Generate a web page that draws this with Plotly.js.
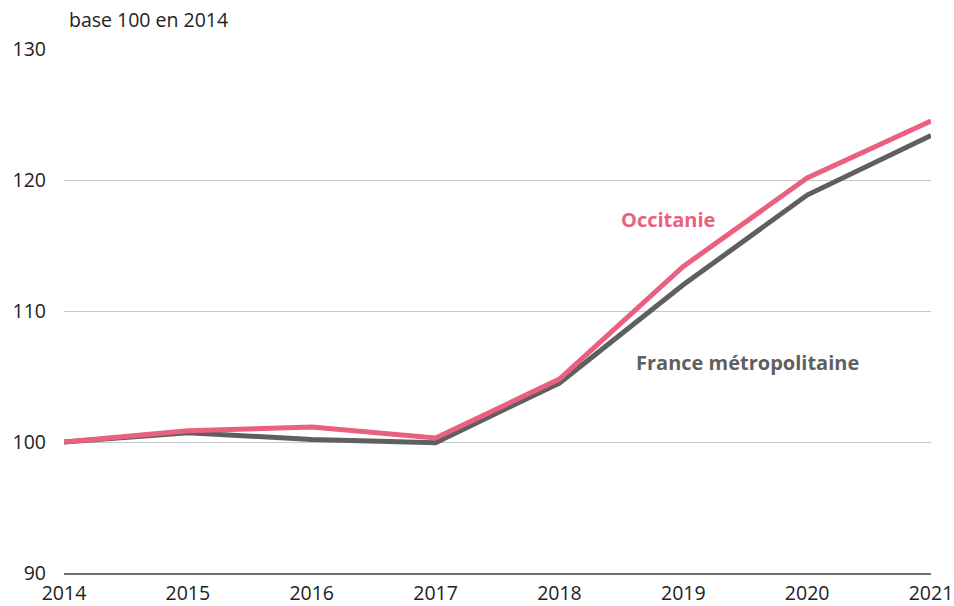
<!DOCTYPE html>
<html>
<head>
<meta charset="utf-8">
<script src="https://cdn.plot.ly/plotly-3.0.1.min.js"></script>
<style>
  html, body { margin: 0; padding: 0; background: #fff; }
  #chart { width: 954px; height: 606px; }
</style>
</head>
<body>
<div id="chart"></div>
<script>
var years = [2014, 2015, 2016, 2017, 2018, 2019, 2020, 2021]
var occitanie = [100, 100.85, 101.15, 100.3, 104.8, 113.4, 120.15, 124.5]
var france = [100, 100.7, 100.2, 99.95, 104.5, 112.0, 118.85, 123.4]

var font = 'Open Sans, Noto Sans, sans-serif'

var data = [
    {
        x: years,
        y: france,
        mode: 'lines',
        type: 'scatter',
        name: 'France métropolitaine',
        line: { color: '#5f5f5f', width: 5 }
    },
    {
        x: years,
        y: occitanie,
        mode: 'lines',
        type: 'scatter',
        name: 'Occitanie',
        line: { color: '#e9617f', width: 5 }
    }
]

Plotly.newPlot('chart', data, {
    width: 954,
    height: 606,
    margin: { l: 64, r: 23, t: 49, b: 33 },
    showlegend: false,
    paper_bgcolor: '#fff',
    plot_bgcolor: '#fff',
    font: { family: font, size: 19.5, color: '#222' },
    xaxis: {
        type: 'linear',
        range: [2014, 2021],
        tickvals: years,
        showgrid: false,
        zeroline: false,
        showline: true,
        linecolor: '#707070',
        linewidth: 1.5,
        ticks: '',
        ticklabelstandoff: 2,
        ticklabeloverflow: 'allow',
        automargin: false,
        tickfont: { family: font, size: 19.5, color: '#222' }
    },
    yaxis: {
        range: [90, 130],
        tickvals: [90, 100, 110, 120, 130],
        showgrid: true,
        gridcolor: '#c8c8c8',
        gridwidth: 1,
        zeroline: false,
        showline: false,
        ticks: '',
        ticklabelstandoff: 17,
        tickfont: { family: font, size: 19.5, color: '#222' }
    },
    annotations: [
        {
            xref: 'paper', yref: 'paper',
            x: 0.004, y: 1.026,
            xanchor: 'left', yanchor: 'bottom',
            text: 'base 100 en 2014',
            showarrow: false,
            font: { family: font, size: 19.5, color: '#222' }
        },
        {
            xref: 'x', yref: 'y',
            x: 2018.88, y: 116.95,
            text: '<b>Occitanie</b>',
            showarrow: false,
            font: { family: font, size: 20, color: '#e9617f' }
        },
        {
            xref: 'x', yref: 'y',
            x: 2018.6, y: 106.05,
            xanchor: 'left',
            text: '<b>France métropolitaine</b>',
            showarrow: false,
            font: { family: font, size: 20, color: '#5f5f5f' }
        }
    ]
}, { displayModeBar: false });
</script>
</body>
</html>
